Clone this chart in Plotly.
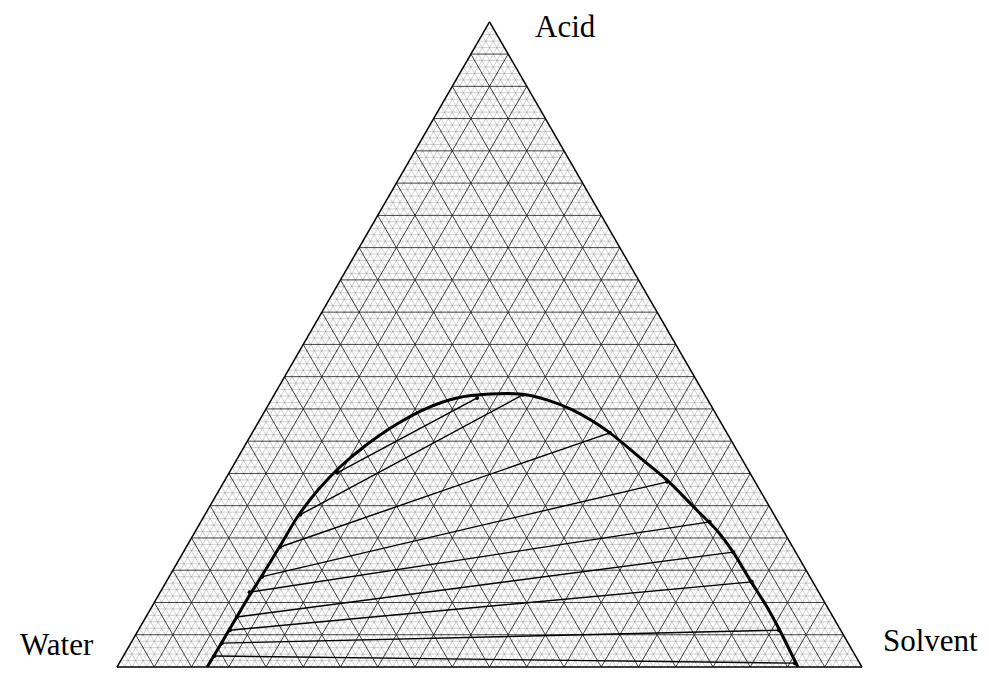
import plotly.graph_objects as go

# Binodal (solubility) curve, mass %: Acid / Water / Solvent
acid_curve = [0.0, 3.56, 7.28, 10.69, 14.41, 18.75, 23.4, 27.43, 31.0, 34.25, 37.66, 40.1, 41.7, 42.3,
              42.3, 41.4, 39.8, 36.6, 32.5, 29.0, 24.3, 21.2, 17.8, 13.5, 9.3, 5.7, 0.0]
water_curve = [87.9, 84.27, 80.52, 77.07, 73.2, 68.75, 64.0, 59.31, 54.57, 49.59, 43.59, 38.4, 33.5, 28.8,
               24.8, 21.6, 18.9, 15.9, 13.6, 11.7, 10.0, 8.9, 8.4, 8.3, 8.1, 8.2, 8.6]
solvent_curve = [12.1, 12.17, 12.2, 12.24, 12.39, 12.5, 12.6, 13.26, 14.43, 16.16, 18.75, 21.5, 24.8, 28.9,
                 32.9, 37.0, 41.3, 47.5, 53.9, 59.3, 65.7, 69.9, 73.8, 78.2, 82.6, 86.1, 91.4]

# Tie lines: water-rich end (raffinate) and solvent-rich end (extract)
tie_acid_raff = [30.1, 23.6, 18.6, 14.0, 11.6, 7.75, 5.7, 3.7, 1.7]
tie_water_raff = [55.4, 63.6, 68.8, 73.5, 76.4, 80.05, 82.0, 84.1, 86.1]
tie_solvent_raff = [14.5, 12.8, 12.6, 12.5, 12.0, 12.2, 12.3, 12.2, 12.2]
tie_acid_ext = [41.7, 42.2, 36.3, 28.7, 22.5, 17.8, 13.2, 5.7, 0.6]
tie_water_ext = [30.8, 24.4, 15.7, 11.8, 9.2, 8.4, 8.2, 8.3, 8.7]
tie_solvent_ext = [27.5, 33.4, 48.0, 59.5, 68.3, 73.8, 78.6, 86.0, 90.7]

corner_labels = ["Acid", "Water", "Solvent"]

W, H = 989, 688
# triangle placement in pixels
left_px, right_px, base_px = 117.0, 862.0, 667.0
tri_h = (right_px - left_px) * 3 ** 0.5 / 2
top_px = base_px - tri_h


def grid_trace(step_values, color, width):
    a, b, c = [], [], []
    for k in step_values:
        # constant acid
        a += [k, k, None]; b += [100 - k, 0, None]; c += [0, 100 - k, None]
        # constant water
        a += [100 - k, 0, None]; b += [k, k, None]; c += [0, 100 - k, None]
        # constant solvent
        a += [100 - k, 0, None]; b += [0, 100 - k, None]; c += [k, k, None]
    return go.Scatterternary(a=a, b=b, c=c, mode="lines", hoverinfo="skip",
                             line=dict(color=color, width=width), showlegend=False)


fig = go.Figure()
fig.add_trace(grid_trace([k for k in range(1, 100) if k % 5], "rgba(110,110,110,0.55)", 0.6))
fig.add_trace(grid_trace(list(range(5, 100, 5)), "rgba(20,20,20,0.9)", 0.9))

# tie lines
ta, tb, tc = [], [], []
for i in range(len(tie_acid_raff)):
    ta += [tie_acid_raff[i], tie_acid_ext[i], None]
    tb += [tie_water_raff[i], tie_water_ext[i], None]
    tc += [tie_solvent_raff[i], tie_solvent_ext[i], None]
fig.add_trace(go.Scatterternary(a=ta, b=tb, c=tc, mode="lines",
                                line=dict(color="black", width=1.4), showlegend=False))

# binodal curve
fig.add_trace(go.Scatterternary(a=acid_curve, b=water_curve, c=solvent_curve, mode="lines",
                                line=dict(color="black", width=3, shape="spline", smoothing=0.8),
                                showlegend=False))

# measured points at tie-line ends
fig.add_trace(go.Scatterternary(a=tie_acid_raff + tie_acid_ext, b=tie_water_raff + tie_water_ext,
                                c=tie_solvent_raff + tie_solvent_ext, mode="markers",
                                marker=dict(color="black", size=4), showlegend=False))

axis_common = dict(title=dict(text=""), showticklabels=False, ticks="", showgrid=False,
                   showline=True, linecolor="black", linewidth=1.5, min=0)

fig.update_layout(
    width=W, height=H,
    margin=dict(l=0, r=0, t=0, b=0),
    paper_bgcolor="white",
    ternary=dict(
        sum=100,
        bgcolor="white",
        domain=dict(x=[left_px / W, right_px / W], y=[(H - base_px) / H, (H - top_px) / H]),
        aaxis=axis_common, baxis=axis_common, caxis=axis_common,
    ),
    font=dict(family="Liberation Serif", color="black"),
)

label_pos = [(533, 27), (18, 644), (881, 640)]
for text, (px, py) in zip(corner_labels, label_pos):
    fig.add_annotation(text=text, xref="paper", yref="paper", x=px / W, y=1 - py / H,
                       xanchor="left", yanchor="middle", showarrow=False,
                       font=dict(family="Liberation Serif", size=31, color="black"))

fig.write_html("out.html")
